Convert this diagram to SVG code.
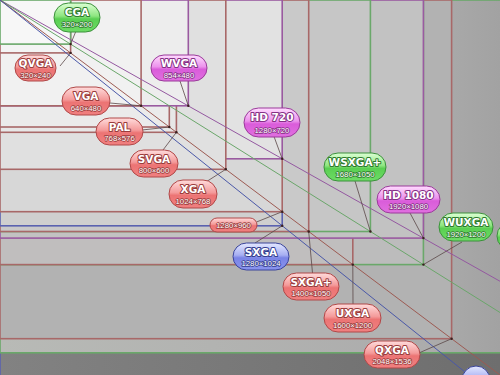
<svg xmlns="http://www.w3.org/2000/svg" width="500" height="375" viewBox="0 0 500 375">
<defs>
<linearGradient id="gQS" x1="0" y1="0" x2="500" y2="0" gradientUnits="userSpaceOnUse"><stop offset="0" stop-color="#828282"/><stop offset="1" stop-color="#6e6e6e"/></linearGradient>
<linearGradient id="gWQ" x1="0" y1="0" x2="500" y2="0" gradientUnits="userSpaceOnUse"><stop offset="0" stop-color="#b8bab6"/><stop offset="0.85" stop-color="#acacac"/><stop offset="1" stop-color="#a2a2a2"/></linearGradient>
<linearGradient id="pr" x1="0" y1="0" x2="0" y2="1"><stop offset="0" stop-color="#ffdcdc"/><stop offset="0.45" stop-color="#f49a9a"/><stop offset="0.55" stop-color="#ec7474"/><stop offset="1" stop-color="#f08080"/></linearGradient>
<linearGradient id="pg" x1="0" y1="0" x2="0" y2="1"><stop offset="0" stop-color="#dcffd4"/><stop offset="0.45" stop-color="#8ee680"/><stop offset="0.55" stop-color="#5acf52"/><stop offset="1" stop-color="#6edc66"/></linearGradient>
<linearGradient id="pp" x1="0" y1="0" x2="0" y2="1"><stop offset="0" stop-color="#ffdcff"/><stop offset="0.45" stop-color="#ec92ec"/><stop offset="0.55" stop-color="#da5cda"/><stop offset="1" stop-color="#e070e0"/></linearGradient>
<linearGradient id="pb" x1="0" y1="0" x2="0" y2="1"><stop offset="0" stop-color="#e4e8ff"/><stop offset="0.45" stop-color="#a6aef2"/><stop offset="0.55" stop-color="#7a84e6"/><stop offset="1" stop-color="#8a94ee"/></linearGradient>
</defs>
<style>
.r{stroke-width:1.6}
.sr{stroke:#a86868}.sg{stroke:#6aa86a}.sp{stroke:#9a5aa0}.sb{stroke:#5a62b0}
.ar{fill:none;stroke-width:1}
.ld{fill:none;stroke:#5a4848;stroke-width:0.8}
.dot{fill:#3a2020}
.pill{stroke-width:1}
.kr{fill:url(#pr);stroke:#b04848}.kg{fill:url(#pg);stroke:#3c903c}.kp{fill:url(#pp);stroke:#9a3a9a}.kb{fill:url(#pb);stroke:#3a449a}
.t{font-family:"DejaVu Sans","Liberation Sans",sans-serif;font-weight:bold;font-size:10.5px;fill:#fff;text-anchor:middle;paint-order:stroke;stroke-width:2;stroke-linejoin:round}
.s{font-family:"Liberation Sans",Arial,sans-serif;font-size:7.8px;fill:#fff;text-anchor:middle;paint-order:stroke;stroke-width:1.5;stroke-linejoin:round}
.tr{stroke:#9a3c3c}.tg{stroke:#2e7a2e}.tp{stroke:#853085}.tb{stroke:#343e90}
</style>
<g id="screens">
<rect class="r sb" x="0" y="0" width="564.5" height="451.6" fill="url(#gQS)"/>
<rect class="r sg" x="0" y="0" width="564.5" height="352.8" fill="url(#gWQ)"/>
<rect class="r sr" x="0" y="0" width="451.6" height="338.7" fill="#b2b2b2"/>
<rect class="r sg" x="0" y="0" width="423.4" height="264.6" fill="#bcbcbc"/>
<rect class="r sr" x="0" y="0" width="352.8" height="264.6" fill="#c0bebe"/>
<rect class="r sp" x="0" y="0" width="423.4" height="238.1" fill="#c2c2c2"/>
<rect class="r sg" x="0" y="0" width="370.4" height="231.5" fill="#c6c6c6"/>
<rect class="r sr" x="0" y="0" width="308.7" height="231.5" fill="#c9c9c9"/>
<rect class="r sb" x="0" y="0" width="282.2" height="225.8" fill="#cfcfcf"/>
<rect class="r sr" x="0" y="0" width="282.2" height="211.7" fill="#d7d7d7"/>
<rect class="r sp" x="0" y="0" width="282.2" height="158.8" fill="#e2e2e2"/>
<rect class="r sr" x="0" y="0" width="225.8" height="169.3" fill="#e0e0e0"/>
<rect class="r sr" x="0" y="0" width="176.4" height="132.3" fill="#e7e7e7"/>
<rect class="r sr" x="0" y="0" width="169.3" height="127.0" fill="#ebebeb"/>
<rect class="r sp" x="0" y="0" width="188.3" height="105.8" fill="#ededed"/>
<rect class="r sr" x="0" y="0" width="141.1" height="105.8" fill="#f1f1f1"/>
<rect class="r sr" x="0" y="0" width="70.6" height="52.9" fill="#f4f4f4"/>
<rect class="r sg" x="0" y="0" width="70.6" height="44.1" fill="#f7f7f7"/>
</g>
<g id="connectors">
<line class="ar" x1="0" y1="0" x2="600" y2="337.5" stroke="#9458a0"/>
<line class="ar" x1="0" y1="0" x2="600" y2="375" stroke="#6aa66a"/>
<line class="ar" x1="0" y1="0" x2="520" y2="390" stroke="#9c5a52"/>
<line class="ar" x1="0" y1="0" x2="480" y2="384" stroke="#4a58a8"/>
<line class="ld" x1="76" y1="31" x2="70.6" y2="44.1"/>
<line class="ld" x1="60" y1="66" x2="70.6" y2="52.9"/>
<line class="ld" x1="110" y1="103" x2="141.1" y2="105.8"/>
<line class="ld" x1="180" y1="81" x2="188.3" y2="105.8"/>
<line class="ld" x1="142" y1="130" x2="169.3" y2="127.0"/>
<line class="ld" x1="163" y1="150" x2="176.4" y2="132.3"/>
<line class="ld" x1="206.7" y1="181.5" x2="225.8" y2="169.3"/>
<line class="ld" x1="274" y1="136.5" x2="282.2" y2="158.8"/>
<line class="ld" x1="256.5" y1="222" x2="282.2" y2="211.7"/>
<line class="ld" x1="255" y1="243" x2="282.2" y2="225.8"/>
<line class="ld" x1="312.5" y1="273" x2="308.7" y2="231.5"/>
<line class="ld" x1="353" y1="304" x2="352.8" y2="264.6"/>
<line class="ld" x1="420" y1="352.5" x2="451.6" y2="338.7"/>
<line class="ld" x1="355" y1="181" x2="370.4" y2="231.5"/>
<line class="ld" x1="410" y1="213" x2="423.4" y2="238.1"/>
<line class="ld" x1="462" y1="242" x2="423.4" y2="264.6"/>
<circle class="dot" cx="70.6" cy="44.1" r="1.2"/>
<circle class="dot" cx="70.6" cy="52.9" r="1.2"/>
<circle class="dot" cx="141.1" cy="105.8" r="1.2"/>
<circle class="dot" cx="188.3" cy="105.8" r="1.2"/>
<circle class="dot" cx="169.3" cy="127.0" r="1.2"/>
<circle class="dot" cx="176.4" cy="132.3" r="1.2"/>
<circle class="dot" cx="225.8" cy="169.3" r="1.2"/>
<circle class="dot" cx="282.2" cy="158.8" r="1.2"/>
<circle class="dot" cx="282.2" cy="211.7" r="1.2"/>
<circle class="dot" cx="282.2" cy="225.8" r="1.2"/>
<circle class="dot" cx="308.7" cy="231.5" r="1.2"/>
<circle class="dot" cx="352.8" cy="264.6" r="1.2"/>
<circle class="dot" cx="451.6" cy="338.7" r="1.2"/>
<circle class="dot" cx="370.4" cy="231.5" r="1.2"/>
<circle class="dot" cx="423.4" cy="238.1" r="1.2"/>
<circle class="dot" cx="423.4" cy="264.6" r="1.2"/>
</g>
<g id="cga"><rect class="pill kg" x="54" y="3" width="46" height="29" rx="14.5"/><text class="t tg" x="77" y="16">CGA</text><text class="s tg" x="77" y="27">320×200</text></g>
<g id="qvga"><rect class="pill kr" x="15" y="55" width="41" height="26" rx="13"/><text class="t tr" x="35.5" y="67">QVGA</text><text class="s tr" x="35.5" y="77.5">320×240</text></g>
<g id="vga"><rect class="pill kr" x="62" y="87" width="48" height="28" rx="14"/><text class="t tr" x="86" y="100">VGA</text><text class="s tr" x="86" y="111">640×480</text></g>
<g id="wvga"><rect class="pill kp" x="151" y="55" width="56" height="26" rx="13"/><text class="t tp" x="179" y="67">WVGA</text><text class="s tp" x="179" y="77.5">854×480</text></g>
<g id="pal"><rect class="pill kr" x="96" y="118" width="47" height="27" rx="13.5"/><text class="t tr" x="119.5" y="130.5">PAL</text><text class="s tr" x="119.5" y="141">768×576</text></g>
<g id="svga"><rect class="pill kr" x="130" y="150" width="48" height="27" rx="13.5"/><text class="t tr" x="154" y="162.5">SVGA</text><text class="s tr" x="154" y="173">800×600</text></g>
<g id="xga"><rect class="pill kr" x="169" y="180" width="48" height="28" rx="14"/><text class="t tr" x="193" y="193">XGA</text><text class="s tr" x="193" y="204">1024×768</text></g>
<g id="hd720"><rect class="pill kp" x="244" y="108" width="56" height="29" rx="14.5"/><text class="t tp" x="272" y="121">HD 720</text><text class="s tp" x="272" y="132.5">1280×720</text></g>
<g id="r1280x960"><rect class="pill kr" x="210" y="218" width="47" height="14" rx="7"/><text class="s tr" x="233.5" y="228">1280×960</text></g>
<g id="sxga"><rect class="pill kb" x="233" y="243" width="56" height="27" rx="13.5"/><text class="t tb" x="261" y="255.5">SXGA</text><text class="s tb" x="261" y="266">1280×1024</text></g>
<g id="sxgaplus"><rect class="pill kr" x="283" y="273" width="56" height="27" rx="13.5"/><text class="t tr" x="311" y="285.5">SXGA+</text><text class="s tr" x="311" y="296">1400×1050</text></g>
<g id="uxga"><rect class="pill kr" x="324" y="304" width="57" height="28" rx="14"/><text class="t tr" x="352.5" y="317">UXGA</text><text class="s tr" x="352.5" y="328">1600×1200</text></g>
<g id="qxga"><rect class="pill kr" x="364" y="341" width="56" height="27" rx="13.5"/><text class="t tr" x="392" y="353.5">QXGA</text><text class="s tr" x="392" y="364">2048×1536</text></g>
<g id="wsxgaplus"><rect class="pill kg" x="324" y="153" width="62" height="28" rx="14"/><text class="t tg" x="355" y="166">WSXGA+</text><text class="s tg" x="355" y="177">1680×1050</text></g>
<g id="hd1080"><rect class="pill kp" x="377" y="186" width="63" height="27" rx="13.5"/><text class="t tp" x="408.5" y="198.5">HD 1080</text><text class="s tp" x="408.5" y="209">1920×1080</text></g>
<g id="wuxga"><rect class="pill kg" x="439" y="213" width="54" height="28" rx="14"/><text class="t tg" x="466" y="226">WUXGA</text><text class="s tg" x="466" y="237">1920×1200</text></g>
<g id="wqxga"><rect class="pill kg" x="497" y="222" width="56" height="28" rx="14"/></g>
<g id="qsxga"><circle class="pill kb" cx="476" cy="380" r="14"/></g>
</svg>
